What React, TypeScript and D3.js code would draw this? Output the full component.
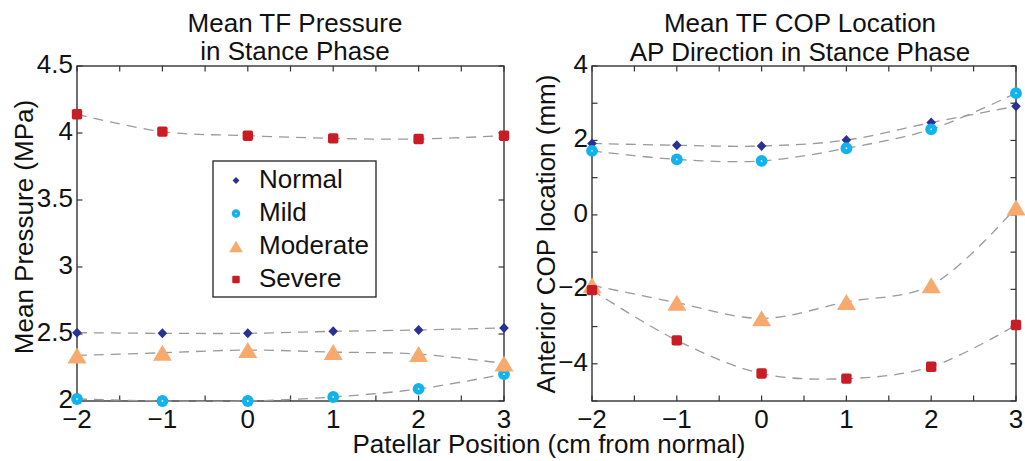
import React from "react";
import * as d3 from "d3";

const positions = [-2, -1, 0, 1, 2, 3];
const pressureNormal = [2.51, 2.505, 2.505, 2.52, 2.53, 2.545];
const pressureMild = [2.015, 2.0, 2.0, 2.03, 2.09, 2.2];
const pressureModerate = [2.34, 2.36, 2.38, 2.365, 2.35, 2.28];
const pressureSevere = [4.14, 4.01, 3.98, 3.96, 3.955, 3.98];
const copNormal = [1.92, 1.87, 1.85, 2.01, 2.48, 2.92];
const copMild = [1.72, 1.49, 1.45, 1.79, 2.3, 3.27];
const copModerate = [-1.89, -2.36, -2.78, -2.34, -1.89, 0.2];
const copSevere = [-2.02, -3.37, -4.26, -4.4, -4.08, -2.96];

const seriesNames = ["Normal", "Mild", "Moderate", "Severe"];
const xTickLabels = ["−2", "−1", "0", "1", "2", "3"];
const pressureTicks = [2, 2.5, 3, 3.5, 4, 4.5];
const pressureTickLabels = ["2", "2.5", "3", "3.5", "4", "4.5"];
const copTicks = [-4, -2, 0, 2, 4];
const copTickLabels = ["−4", "−2", "0", "2", "4"];

const COLORS: Record<string, string> = {
  Normal: "#2b3192",
  Mild: "#12b2ec",
  Moderate: "#f8a96e",
  Severe: "#c91c24",
};

const FONT = "'Liberation Sans', Arial, Helvetica, sans-serif";
const FS = 26;

function Marker({ type, x, y, s = 1 }: { type: string; x: number; y: number; s?: number }) {
  const c = COLORS[type];
  if (type === "Normal") {
    const w = 4.8 * s, h = 5 * s;
    return <path d={`M${x},${y - h}L${x + w},${y}L${x},${y + h}L${x - w},${y}Z`} fill={c} />;
  }
  if (type === "Mild") {
    return (
      <g>
        <circle cx={x} cy={y} r={5.9 * s} fill={c} />
        <circle cx={x} cy={y} r={0.9 * s} fill="#dff3fb" />
      </g>
    );
  }
  if (type === "Moderate") {
    const w = 9.5 * s, h = 8 * s;
    return <path d={`M${x},${y - h}L${x + w},${y + h}L${x - w},${y + h}Z`} fill={c} />;
  }
  const a = 5.2 * s;
  return <rect x={x - a} y={y - a} width={2 * a} height={2 * a} rx={1.8 * s} fill={c} />;
}

type PanelProps = {
  x0: number; x1: number; y0: number; y1: number;
  yDomain: [number, number];
  yTicks: number[]; yMinor: number[]; yTickLabels: string[];
  series: { name: string; values: number[] }[];
  title: string[];
  titleX: number;
  titleBaselines: number[];
  yLabel: string; yLabelX: number; yLabelY: number;
};

function Panel(p: PanelProps) {
  const xs = d3.scaleLinear().domain([-2, 3]).range([p.x0, p.x1]);
  const ys = d3.scaleLinear().domain(p.yDomain).range([p.y1, p.y0]);
  const xMinor = d3.range(-2, 3.01, 0.5);
  const tl = 5.5;
  const line = d3
    .line<number>()
    .x((_, i) => xs(positions[i]))
    .y((d) => ys(d))
    .curve(d3.curveCatmullRom.alpha(0.5));
  return (
    <g>
      {p.title.map((t, i) => (
        <text key={i} x={p.titleX} y={p.titleBaselines[i]} textAnchor="middle" fontSize={FS} fontFamily={FONT} fill="#111">
          {t}
        </text>
      ))}
      <rect x={p.x0} y={p.y0} width={p.x1 - p.x0} height={p.y1 - p.y0} fill="none" stroke="#333" strokeWidth={1.4} />
      {xMinor.map((v) => (
        <g key={"xt" + v}>
          <line x1={xs(v)} x2={xs(v)} y1={p.y1} y2={p.y1 - tl} stroke="#333" strokeWidth={1.2} />
          <line x1={xs(v)} x2={xs(v)} y1={p.y0} y2={p.y0 + tl} stroke="#333" strokeWidth={1.2} />
        </g>
      ))}
      {p.yMinor.map((v) => (
        <g key={"yt" + v}>
          <line x1={p.x0} x2={p.x0 + tl} y1={ys(v)} y2={ys(v)} stroke="#333" strokeWidth={1.2} />
          <line x1={p.x1} x2={p.x1 - tl} y1={ys(v)} y2={ys(v)} stroke="#333" strokeWidth={1.2} />
        </g>
      ))}
      {positions.map((v, i) => (
        <text key={"xl" + v} x={xs(v)} y={428} textAnchor="middle" fontSize={FS} fontFamily={FONT} fill="#111">
          {xTickLabels[i]}
        </text>
      ))}
      {p.yTicks.map((v, i) => (
        <text key={"yl" + v} x={p.x0 - 4} y={ys(v) + 7} textAnchor="end" fontSize={FS} fontFamily={FONT} fill="#111">
          {p.yTickLabels[i]}
        </text>
      ))}
      <text
        transform={`translate(${p.yLabelX},${p.yLabelY}) rotate(-90)`}
        textAnchor="middle"
        fontSize={FS}
        fontFamily={FONT}
        fill="#111"
      >
        {p.yLabel}
      </text>
      {p.series.map((s) => (
        <path key={"l" + s.name} d={line(s.values) || ""} fill="none" stroke="#9a9a9a" strokeWidth={1.3} strokeDasharray="10,7" />
      ))}
      {p.series.map((s) =>
        s.values.map((v, i) => <Marker key={s.name + i} type={s.name} x={xs(positions[i])} y={ys(v)} />)
      )}
    </g>
  );
}

export default function App() {
  const legendRows = [188, 221, 254, 287];
  return (
    <svg width={1025} height={461} style={{ position: "absolute", left: 0, top: 0, background: "#fff" }}>
      <rect x={0} y={0} width={1025} height={461} fill="#fff" />
      <Panel
        x0={77} x1={504} y0={66} y1={401}
        yDomain={[2, 4.5]}
        yTicks={pressureTicks}
        yMinor={pressureTicks}
        yTickLabels={pressureTickLabels}
        series={[
          { name: "Normal", values: pressureNormal },
          { name: "Mild", values: pressureMild },
          { name: "Moderate", values: pressureModerate },
          { name: "Severe", values: pressureSevere },
        ]}
        title={["Mean TF Pressure", "in Stance Phase"]}
        titleX={295}
        titleBaselines={[32, 60]}
        yLabel="Mean Pressure (MPa)"
        yLabelX={33}
        yLabelY={227}
      />
      <Panel
        x0={592} x1={1016} y0={66} y1={401}
        yDomain={[-5, 4]}
        yTicks={copTicks}
        yMinor={d3.range(-5, 4.01, 1)}
        yTickLabels={copTickLabels}
        series={[
          { name: "Normal", values: copNormal },
          { name: "Mild", values: copMild },
          { name: "Moderate", values: copModerate },
          { name: "Severe", values: copSevere },
        ]}
        title={["Mean TF COP Location", "AP Direction in Stance Phase"]}
        titleX={800}
        titleBaselines={[32, 61]}
        yLabel="Anterior COP location (mm)"
        yLabelX={555}
        yLabelY={234}
      />
      <g>
        <rect x={213} y={161} width={163} height={136} fill="#fff" stroke="#222" strokeWidth={1.3} />
        {seriesNames.map((n, i) => (
          <g key={n}>
            <Marker type={n} x={236} y={legendRows[i] - 7.5} s={0.72} />
            <text x={259} y={legendRows[i]} fontSize={FS} fontFamily={FONT} fill="#111">
              {n}
            </text>
          </g>
        ))}
      </g>
      <text x={549} y={453} textAnchor="middle" fontSize={FS} fontFamily={FONT} fill="#111">
        Patellar Position (cm from normal)
      </text>
    </svg>
  );
}
